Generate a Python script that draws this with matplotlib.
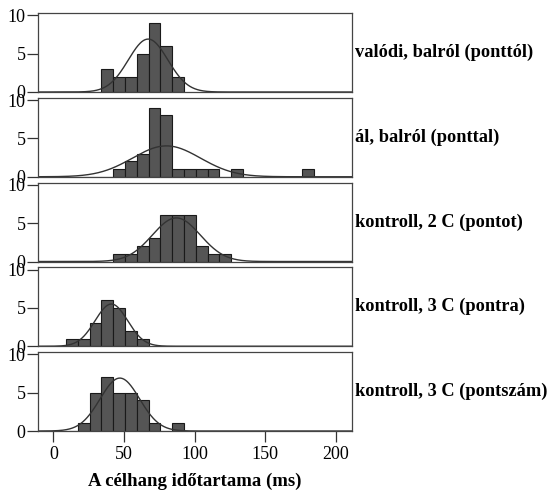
import numpy as np
import matplotlib
matplotlib.use("Agg")
import matplotlib.pyplot as plt

plt.rcParams['font.family'] = ['Liberation Serif', 'DejaVu Serif']

# hisztogram osztályok (ms)
bin_start = 0.6
bin_width = 8.35

labels = ["valódi, balról (ponttól)",
          "ál, balról (ponttal)",
          "kontroll, 2 C (pontot)",
          "kontroll, 3 C (pontra)",
          "kontroll, 3 C (pontszám)"]

# gyakoriságok osztályonként, a 0. osztálytól kezdve
counts_valodi = [0, 0, 0, 0, 3, 2, 2, 5, 9, 6, 2]
counts_al = [0, 0, 0, 0, 0, 1, 2, 3, 9, 8, 1, 1, 1, 1, 0, 1, 0, 0, 0, 0, 0, 1]
counts_k2 = [0, 0, 0, 0, 0, 1, 1, 2, 3, 6, 6, 6, 2, 1, 1]
counts_k3 = [0, 1, 1, 3, 6, 5, 2, 1]
counts_k3sz = [0, 0, 1, 5, 7, 5, 5, 4, 1, 0, 1]
all_counts = [counts_valodi, counts_al, counts_k2, counts_k3, counts_k3sz]

# illesztett normális görbék paraméterei
means = [67, 80, 87, 41, 47]
sds = [14, 24, 17, 11.5, 14]

xticks = [0, 50, 100, 150, 200]

fig = plt.figure(figsize=(5.57, 4.91), dpi=100)
H = 491.0
W = 557.0
left = 37.5 / W
width = 314.0 / W
xs = np.linspace(-11.3, 211, 600)

for k in range(5):
    top = 13 + 84.75 * k
    ax = fig.add_axes([left, 1 - (top + 79) / H, width, 79 / H])
    c = np.array(all_counts[k])
    centers = bin_start + bin_width * (np.arange(len(c)) + 0.5)
    ax.bar(centers, c, width=bin_width, color='#555555',
           edgecolor='#1a1a1a', linewidth=0.8)
    n = c.sum()
    pdf = np.exp(-0.5 * ((xs - means[k]) / sds[k]) ** 2) / (sds[k] * np.sqrt(2 * np.pi))
    ax.plot(xs, n * bin_width * pdf, color='#333333', linewidth=1.0)
    ax.set_xlim(-11.3, 211)
    ax.set_ylim(0, 10.3)
    ax.set_yticks([0, 5, 10])
    ax.tick_params(axis='y', direction='out', length=8, width=0.9,
                   labelsize=13, pad=0.5, color='#333333')
    for s in ax.spines.values():
        s.set_color('#444444')
        s.set_linewidth(0.9)
    if k < 4:
        ax.set_xticks([])
    else:
        ax.set_xticks(xticks)
        ax.tick_params(axis='x', direction='out', length=8, width=0.9,
                       labelsize=13, pad=3, color='#333333')
        ax.set_xlabel("A célhang időtartama (ms)", fontsize=13.5,
                      fontweight='bold', labelpad=7)
    ax.text(1.01, 0.5, labels[k], transform=ax.transAxes, ha='left',
            va='center', fontsize=13.2, fontweight='bold')

fig.savefig("out.png", dpi=100)
